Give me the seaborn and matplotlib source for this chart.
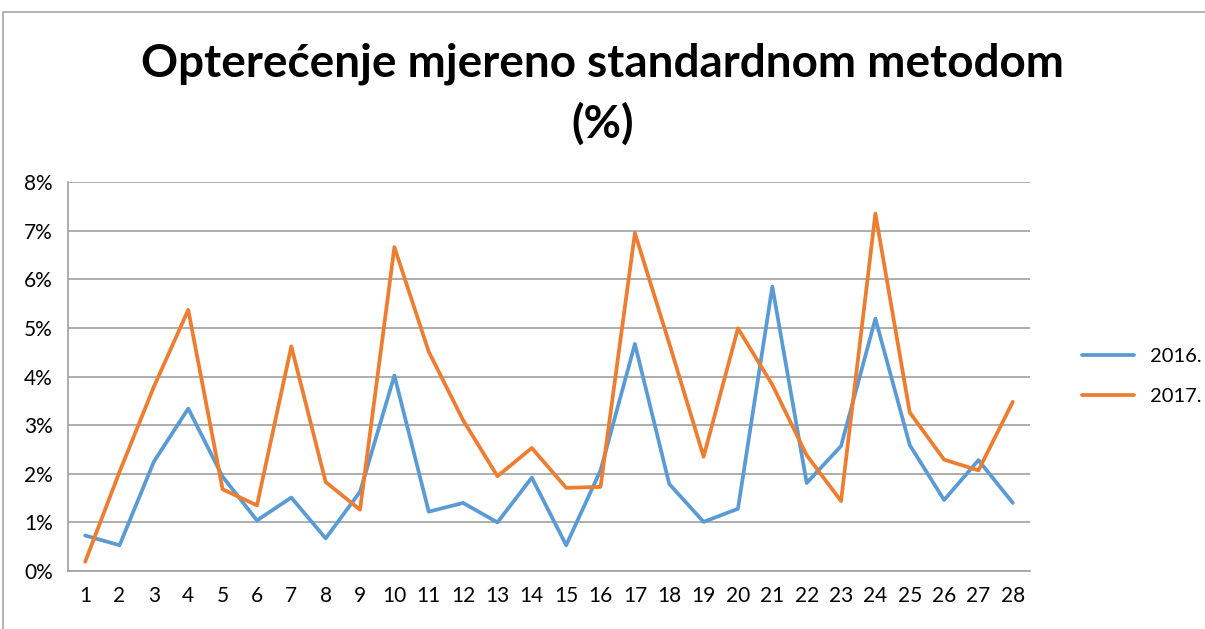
import pandas as pd
import matplotlib.pyplot as plt
import seaborn as sns
from matplotlib.patches import Rectangle
from matplotlib.ticker import FuncFormatter, MultipleLocator

# Data (percent)
weeks = list(range(1, 29))
load_2016 = [0.73, 0.53, 2.25, 3.34, 1.94, 1.04, 1.51, 0.67, 1.63, 4.02,
             1.22, 1.40, 1.00, 1.92, 0.53, 2.07, 4.67, 1.79, 1.01, 1.28,
             5.85, 1.81, 2.57, 5.19, 2.59, 1.46, 2.28, 1.40]
load_2017 = [0.19, 2.04, 3.79, 5.37, 1.68, 1.35, 4.62, 1.83, 1.26, 6.66,
             4.51, 3.10, 1.95, 2.53, 1.71, 1.73, 6.95, 4.68, 2.35, 4.99,
             3.83, 2.38, 1.44, 7.35, 3.26, 2.29, 2.07, 3.48]
years = ['2016.', '2017.']

df = pd.DataFrame({
    'x': weeks * 2,
    'value': load_2016 + load_2017,
    'year': [years[0]] * len(weeks) + [years[1]] * len(weeks),
})

sns.set_style('white')
plt.rcParams['font.family'] = ['Lato', 'DejaVu Sans']
plt.rcParams['text.color'] = 'black'
plt.rcParams['xtick.labelcolor'] = 'black'
plt.rcParams['ytick.labelcolor'] = 'black'

fig = plt.figure(figsize=(12.05, 6.29), dpi=100)
ax = fig.add_axes([68 / 1205, 1 - 571 / 629, (1030 - 68) / 1205, (571 - 182) / 629])

# outer chart border (cropped screenshot)
fig.patches.append(Rectangle((3 / 1205, -0.1), 1.2, 1 - 12 / 629 + 0.1,
                             transform=fig.transFigure, fill=False,
                             edgecolor='#a6a6a6', linewidth=1.2))

sns.lineplot(data=df, x='x', y='value', hue='year', ax=ax,
             palette=['#5B9BD5', '#ED7D31'], linewidth=2.7, legend=True)

ax.set_xlim(0.5, 28.5)
ax.set_ylim(0, 8)
ax.yaxis.set_major_locator(MultipleLocator(1))
ax.yaxis.set_major_formatter(FuncFormatter(lambda v, p: f'{int(v)}%'))
ax.set_xticks(weeks)
ax.set_xticks([w - 0.5 for w in weeks] + [28.5], minor=True)
ax.tick_params(axis='x', which='major', length=0, labelsize=15, pad=11)
ax.tick_params(axis='x', which='minor', length=7, color='#a0a0a0', width=1.2)
ax.tick_params(axis='y', which='major', length=7, color='#a0a0a0', width=1.2,
               labelsize=15, pad=4)
ax.grid(axis='y', color='#a0a0a0', linewidth=1.2)
ax.set_axisbelow(True)
for s in ['top', 'right']:
    ax.spines[s].set_visible(False)
for s in ['left', 'bottom']:
    ax.spines[s].set_color('#a0a0a0')
    ax.spines[s].set_linewidth(1.2)
ax.set_xlabel('')
ax.set_ylabel('')

leg = ax.legend(loc='center left', bbox_to_anchor=(1.035, 0.5), frameon=False,
                fontsize=14.5, handlelength=2.6, labelspacing=1.1)

fig.text(0.5, 1 - 64 / 629, 'Opterećenje mjereno standardnom metodom',
         ha='center', va='center', fontsize=33, fontweight='bold', color='black')
fig.text(0.5, 1 - 124 / 629, '(%)', ha='center', va='center',
         fontsize=33, fontweight='bold', color='black')

fig.savefig('out.png', dpi=100)
